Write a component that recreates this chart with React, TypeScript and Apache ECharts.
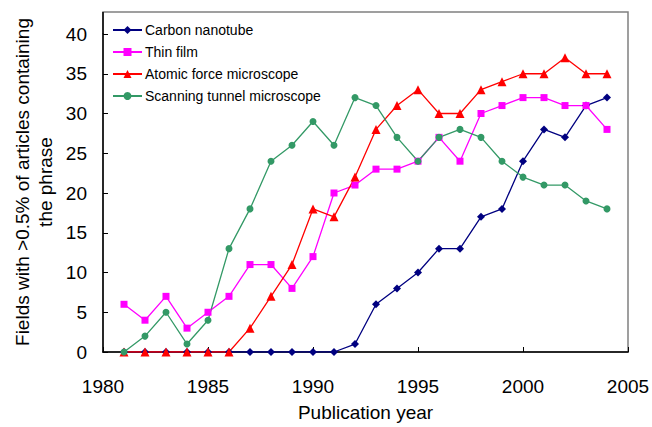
import React, { useEffect, useRef } from "react";
import * as echarts from "echarts";

const years = [1981, 1982, 1983, 1984, 1985, 1986, 1987, 1988, 1989, 1990, 1991, 1992, 1993, 1994, 1995, 1996, 1997, 1998, 1999, 2000, 2001, 2002, 2003, 2004];
const carbonNanotube = [0, 0, 0, 0, 0, 0, 0, 0, 0, 0, 0, 1, 6, 8, 10, 13, 13, 17, 18, 24, 28, 27, 31, 32];
const thinFilm = [6, 4, 7, 3, 5, 7, 11, 11, 8, 12, 20, 21, 23, 23, 24, 27, 24, 30, 31, 32, 32, 31, 31, 28];
const atomicForce = [0, 0, 0, 0, 0, 0, 3, 7, 11, 18, 17, 22, 28, 31, 33, 30, 30, 33, 34, 35, 35, 37, 35, 35];
const scanningTunnel = [0, 2, 5, 1, 4, 13, 18, 24, 26, 29, 26, 32, 31, 27, 24, 27, 28, 27, 24, 22, 21, 21, 19, 18];
const seriesNames = ["Carbon nanotube", "Thin film", "Atomic force microscope", "Scanning tunnel microscope"];

const FONT = "'Liberation Sans', Arial, sans-serif";

export default function App() {
  const ref = useRef<HTMLDivElement>(null);
  useEffect(() => {
    if (!ref.current) return;
    document.body.style.margin = "0";
    const chart = echarts.init(ref.current, undefined, { renderer: "svg" });
    const pairs = (vals: number[]) => years.map((y, i) => [y, vals[i]]);
    const mk = (name: string, vals: number[], color: string, symbol: string, size: number) => ({
      name,
      type: "line",
      data: pairs(vals),
      symbol,
      symbolSize: size,
      showAllSymbol: true,
      itemStyle: { color },
      lineStyle: { color, width: 1.3 },
    });
    chart.setOption({
      animation: false,
      backgroundColor: "#ffffff",
      textStyle: { fontFamily: FONT },
      grid: { left: 103, right: 24, top: 34, bottom: 75, containLabel: false, outerBoundsMode: "none" },
      legend: {
        orient: "vertical",
        left: 112,
        top: 23,
        itemGap: 8,
        itemWidth: 29,
        itemHeight: 10,
        padding: 0,
        textStyle: { fontSize: 14, color: "#000", fontFamily: FONT, padding: [0, 0, 0, -2] },
        data: seriesNames,
      },
      xAxis: {
        type: "value",
        min: 1980,
        max: 2005,
        interval: 5,
        splitLine: { show: false },
        axisLine: { lineStyle: { color: "#000", width: 1.5 } },
        axisTick: { inside: true, length: 5, lineStyle: { color: "#000" } },
        axisLabel: { color: "#000", fontSize: 19, margin: 25, fontFamily: FONT, formatter: (v: number) => String(v) },
        name: "Publication year",
        nameLocation: "middle",
        nameGap: 51,
        nameTextStyle: { color: "#000", fontSize: 19, fontFamily: FONT },
      },
      yAxis: {
        type: "value",
        min: 0,
        max: 40,
        interval: 5,
        splitLine: { show: false },
        axisLine: { show: true, lineStyle: { color: "#000", width: 1.5 } },
        axisTick: { show: true, inside: true, length: 5, lineStyle: { color: "#000" } },
        axisLabel: { color: "#000", fontSize: 19, margin: 16, fontFamily: FONT },
      },
      graphic: [
        {
          type: "rect",
          shape: { x: 103, y: 12, width: 525, height: 340 },
          style: { fill: "none", stroke: "#808080", lineWidth: 1.5 },
          silent: true,
          z: -1,
        },
        {
          type: "line",
          shape: { x1: 103, y1: 12, x2: 103, y2: 34 },
          style: { stroke: "#000", lineWidth: 1.5 },
          silent: true,
        },
        {
          type: "text",
          x: 34,
          y: 182,
          rotation: Math.PI / 2,
          style: {
            text: "Fields with >0.5% of articles containing\nthe phrase",
            fontSize: 19,
            lineHeight: 23,
            fontFamily: FONT,
            fill: "#000",
            align: "center",
            verticalAlign: "middle",
          },
        },
      ],
      series: [
        mk(seriesNames[0], carbonNanotube, "#000080", "diamond", 8),
        mk(seriesNames[1], thinFilm, "#ff00ff", "rect", 7),
        mk(seriesNames[2], atomicForce, "#ff0000", "triangle", 9),
        mk(seriesNames[3], scanningTunnel, "#339966", "circle", 7),
      ],
    });
    return () => chart.dispose();
  }, []);
  return <div ref={ref} style={{ width: 652, height: 427, position: "fixed", left: 0, top: 0 }} />;
}
